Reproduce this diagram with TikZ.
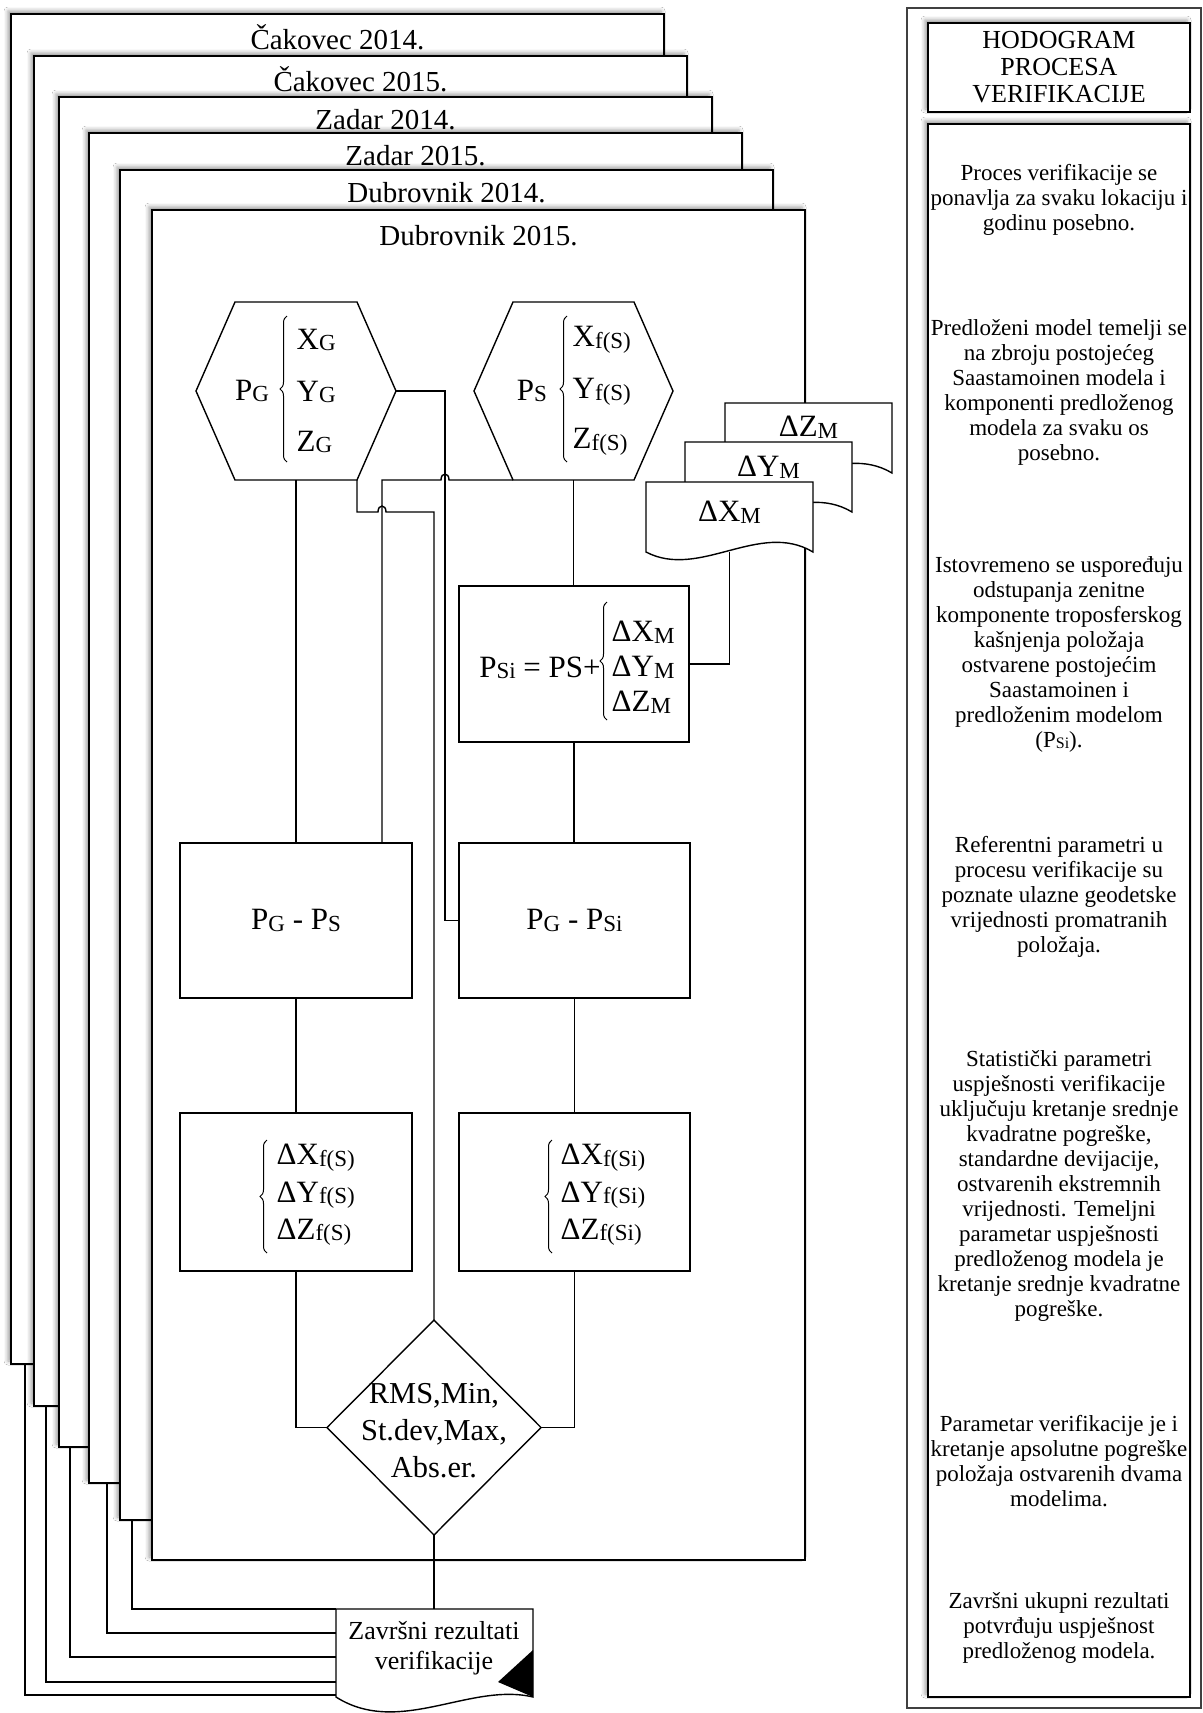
\documentclass[tikz,border=0pt]{standalone}
\usepackage{fontspec}
\setmainfont{Liberation Serif}
\usetikzlibrary{calc,shapes.geometric,decorations.pathreplacing,shadows.blur}
\newcommand\sbs[1]{\raisebox{-0.8pt}{\fontsize{11.5}{11.5}\selectfont #1}}
\newcommand\sbsm[1]{\raisebox{-0.5pt}{\fontsize{8}{8}\selectfont #1}}
% document shape: name, straight height, down control, up control
\newcommand\docshape[4]{%
  \draw[fill=white] (#1.north west) -- (#1.north east) -- ($(#1.north east)+(0,#2)$)
   .. controls ($(#1.north west)!0.68!(#1.north east)+(0,{#2-#4})$) and ($(#1.north west)!0.32!(#1.north east)+(0,{#2+#3})$) .. ($(#1.north west)+(0,#2)$) -- cycle;}
\newcommand\hexshape[1]{%
  \draw[fill=white] (#1.west) -- ($(#1.north west)+(39,0)$) -- ($(#1.north east)+(-39,0)$) -- (#1.east)
   -- ($(#1.south east)+(-39,0)$) -- ($(#1.south west)+(39,0)$) -- cycle;}
\begin{document}
\begin{tikzpicture}[x=0.5pt,y=-0.5pt,line width=0.7pt,
  sh/.style={blur shadow={shadow xshift=-1.5pt, shadow yshift=1.5pt, shadow blur radius=2pt, shadow opacity=40}},
  frm/.style={draw, fill=white, sh, anchor=north west, minimum width=326.5pt, minimum height=675pt, inner sep=0pt, outer sep=0pt},
  ttl/.style={font=\fontsize{14.5}{16}\selectfont, inner sep=0pt},
  lbl/.style={font=\fontsize{15.5}{17}\selectfont, inner sep=0pt},
  stk/.style={lbl, anchor=west},
  bx/.style={draw, fill=white, inner sep=0pt, outer sep=0pt, lbl},
  hx/.style={minimum height=89pt, inner sep=0pt, outer sep=0pt},
  dc/.style={anchor=north west, minimum width=83.5pt, minimum height=35pt, inner sep=0pt, outer sep=0pt},
  brc/.style={decorate, decoration={brace, amplitude=3.5pt}, line width=0.5pt},
  note/.style={font=\fontsize{11.5}{12.5}\selectfont, align=center, inner sep=0pt},
  pnl/.style={draw, fill=white, sh, inner sep=0pt, outer sep=0pt}
]
\useasboundingbox (0,0) rectangle (1203,1713);
\fill[white] (0,0) rectangle (1203,1713);

% result document (geometry only, drawn later)
\node (res) [anchor=north west, minimum width=98.5pt, minimum height=44pt, inner sep=0pt, outer sep=0pt] at (336,1609) {};

% stacked frames
\foreach \i/\x/\y/\tx in {1/11/14/Čakovec 2014., 2/34/56/Čakovec 2015., 3/59/97/Zadar 2014., 4/89/133/Zadar 2015., 5/120/170/Dubrovnik 2014.}{
  \node[frm] (f\i) at (\x,\y) {};
  \node[ttl] (t\i) at ($(f\i.north)+(0,23)$) {\tx};
}
% connectors from the frames to the result
\draw ($(f1.south west)+(14,0)$) |- ($(res.north west)+(0,86)$);
\draw ($(f2.south west)+(12,0)$) |- ($(res.north west)+(0,73)$);
\draw ($(f3.south west)+(11,0)$) |- ($(res.north west)+(0,48)$);
\draw ($(f4.south west)+(18,0)$) |- ($(res.north west)+(0,24)$);
\draw ($(f5.south west)+(12,0)$) |- (res.north west);

% front frame
\node[frm] (f6) at (152,210) {};
\node[ttl] (t6) at ($(f6.north)+(0,26)$) {Dubrovnik 2015.};

% hexagons
\node[hx, minimum width=100pt] (pg) at (296,391) {};
\hexshape{pg}
\node[lbl] (pgp) at (252,391) {P\sbs{G}};
\draw[brc] (287,462) -- (287,316);
\node[stk] (pgx) at (296,340) {X\sbs{G}};
\node[stk] (pgy) at (296,392) {Y\sbs{G}};
\node[stk] (pgz) at (296,442) {Z\sbs{G}};
\coordinate (pgBR) at ($(pg.south east)+(-39,0)$);

\node[hx, minimum width=99.5pt] (ps) at (573.5,391) {};
\hexshape{ps}
\node[lbl] (psp) at (532,391) {P\sbs{S}};
\draw[brc] (567,462) -- (567,316);
\node[stk] (psx) at (572,340) {X\sbs{f(S)}};
\node[stk] (psy) at (572,392) {Y\sbs{f(S)}};
\node[stk] (psz) at (572,442) {Z\sbs{f(S)}};
\coordinate (psBL) at ($(ps.south west)+(39,0)$);

% boxes
\node[bx, minimum width=115pt, minimum height=78pt] (psi) at (574,664) {};
\node[lbl] (psit) at (540,668) {P\sbs{Si} = PS+};
\draw[brc] (607,720) -- (607,602);
\node[stk] (psix) at (611,632) {ΔX\sbs{M}};
\node[stk] (psiy) at (611,667) {ΔY\sbs{M}};
\node[stk] (psiz) at (611,702) {ΔZ\sbs{M}};

\node[bx, minimum width=116pt, minimum height=77.5pt] (pgps) at (296,920.5) {P\sbs{G} - P\sbs{S}};
\node[bx, minimum width=115.5pt, minimum height=77.5pt] (pgpsi) at (574.5,920.5) {P\sbs{G} - P\sbs{Si}};

\node[bx, minimum width=116pt, minimum height=79pt] (dfs) at (296,1192) {};
\draw[brc] (267,1253) -- (267,1140);
\node[stk] (dfsx) at (276,1158) {ΔX\sbs{f(S)}};
\node[stk] (dfsy) at (276,1195) {ΔY\sbs{f(S)}};
\node[stk] (dfsz) at (276,1232) {ΔZ\sbs{f(S)}};

\node[bx, minimum width=115.5pt, minimum height=79pt] (dfsi) at (574.5,1192) {};
\draw[brc] (552,1253) -- (552,1140);
\node[stk] (dfsix) at (560,1158) {ΔX\sbs{f(Si)}};
\node[stk] (dfsiy) at (560,1195) {ΔY\sbs{f(Si)}};
\node[stk] (dfsiz) at (560,1232) {ΔZ\sbs{f(Si)}};

% diamond
\node[draw, fill=white, diamond, minimum width=107pt, minimum height=107.5pt, inner sep=0pt, outer sep=0pt] (stat) at (434,1427.5) {};
\node[font=\fontsize{15.2}{18.5}\selectfont, align=center, inner sep=0pt] (statt) at (434,1431) {RMS,Min,\\St.dev,Max,\\Abs.er.};

% connectors in the front frame
\draw (pg.south) -- (pgps.north);
\draw (ps.south) -- (ps.south |- psi.north);
\draw (psi.south) -- (psi.south |- pgpsi.north);
\draw (pgps.south) -- (dfs.north);
\draw (pgpsi.south) -- (dfsi.north);
\draw (pg.east) -- ++(49,0) |- (pgpsi.west);
\draw (psBL) -- (449,480) .. controls (449,472) and (441,472) .. (441,480) -- (382,480) -- ($(pgps.north west)+(202,0)$);
\draw (pgBR) -- ++(0,32) -- (378,512) .. controls (378,504) and (386,504) .. (386,512) -| (stat.north);
\draw (dfs.south) |- (stat.west);
\draw (dfsi.south) |- (stat.east);
\draw (stat.south) -- (stat.south |- res.north);

% model documents
\node[dc] (dz) at (725,403) {};
\docshape{dz}{70}{28}{32}
\node[lbl] (dzt) at ($(dz.north)+(0,24)$) {ΔZ\sbs{M}};
\node[dc] (dy) at (685,442) {};
\docshape{dy}{70}{28}{32}
\node[lbl] (dyt) at ($(dy.north)+(0,25)$) {ΔY\sbs{M}};
\node[dc] (dx) at (646,482) {};
\docshape{dx}{70}{28}{32}
\node[lbl] (dxt) at ($(dx.north)+(0,30)$) {ΔX\sbs{M}};
\draw (psi.east) -| (dx.south);

% result document
\docshape{res}{88}{40}{15}
\fill ($(res.north east)+(0,41)$) -- ($(res.north east)+(-35,73)$) -- ($(res.north east)+(0,88)$) -- cycle;
\node[font=\fontsize{13}{15}\selectfont, align=center, inner sep=0pt] (rest) at (434,1648) {Završni rezultati\\verifikacije};

% right panel
\node[draw=black!75, line width=0.9pt, anchor=north west, minimum width=147pt, minimum height=850pt, inner sep=0pt] (panel) at (906,7) {};
\node[pnl, minimum width=131pt, minimum height=44.5pt, font=\fontsize{13}{13.5}\selectfont, align=center] (hdr) at (1059,67.5) {HODOGRAM\\PROCESA\\VERIFIKACIJE};
\node[pnl, anchor=north west, minimum width=131pt, minimum height=786.5pt] (cont) at (928,124) {};
\node[note] (n1) at (1059,199.5) {Proces verifikacije se\\ponavlja za svaku lokaciju i\\godinu posebno.};
\node[note] (n2) at (1059,392.5) {Predloženi model temelji se\\na zbroju postojećeg\\Saastamoinen modela i\\komponenti predloženog\\modela za svaku os\\posebno.};
\node[note] (n3) at (1059,654) {Istovremeno se uspoređuju\\odstupanja zenitne\\komponente troposferskog\\kašnjenja položaja\\ostvarene postojećim\\Saastamoinen i\\predloženim modelom\\(P\sbsm{Si}).};
\node[note] (n4) at (1059,897) {Referentni parametri u\\procesu verifikacije su\\poznate ulazne geodetske\\vrijednosti promatranih\\položaja.};
\node[note] (n5) at (1059,1185.5) {Statistički parametri\\uspješnosti verifikacije\\uključuju kretanje srednje\\kvadratne pogreške,\\standardne devijacije,\\ostvarenih ekstremnih\\vrijednosti. Temeljni\\parametar uspješnosti\\predloženog modela je\\kretanje srednje kvadratne\\pogreške.};
\node[note] (n6) at (1059,1461.5) {Parametar verifikacije je i\\kretanje apsolutne pogreške\\položaja ostvarenih dvama\\modelima.};
\node[note] (n7) at (1059,1628) {Završni ukupni rezultati\\potvrđuju uspješnost\\predloženog modela.};
\end{tikzpicture}
\end{document}
